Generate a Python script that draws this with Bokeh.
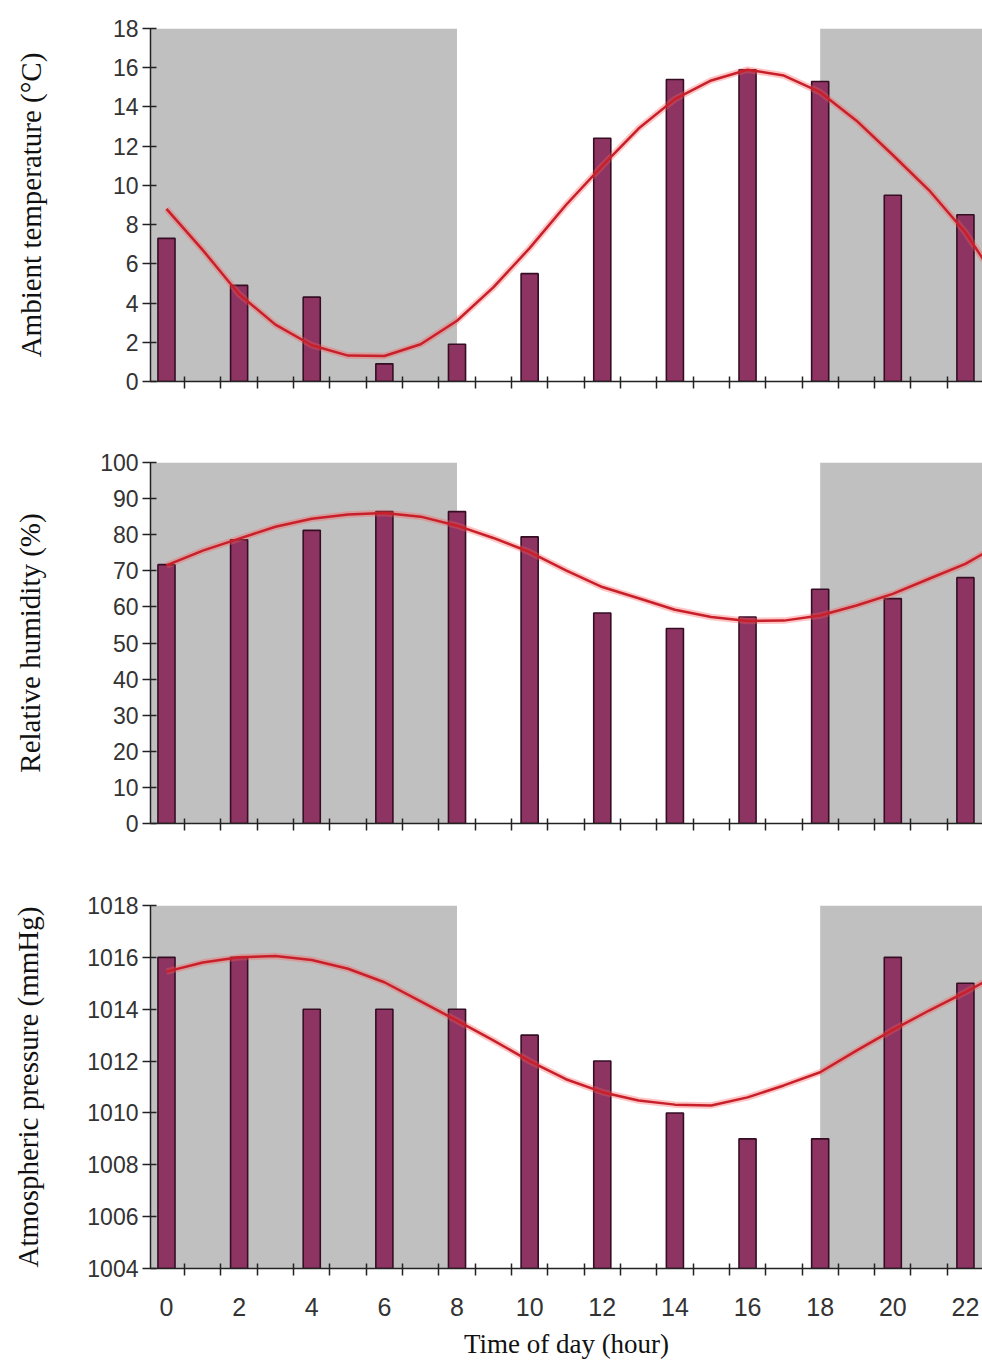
from bokeh.plotting import figure
from bokeh.layouts import column
from bokeh.models import Range1d, FixedTicker, BoxAnnotation
from bokeh.embed import file_html
from bokeh.resources import INLINE

# ---------------- data ----------------
hours = [0, 2, 4, 6, 8, 10, 12, 14, 16, 18, 20, 22]
temperature = [7.3, 4.9, 4.3, 0.9, 1.9, 5.5, 12.4, 15.4, 15.9, 15.3, 9.5, 8.5]
humidity = [71.7, 78.6, 81.2, 86.4, 86.4, 79.4, 58.3, 54.0, 57.2, 64.9, 62.3, 68.1]
pressure = [1016, 1016, 1014, 1014, 1014, 1013, 1012, 1010, 1009, 1009, 1016, 1015]

fit_hours = [0, 1, 2, 3, 4, 5, 6, 7, 8, 9, 10, 11, 12, 13, 14, 15, 16, 17, 18, 19, 20, 21, 22, 22.5]
temperature_fit = [8.8, 6.7, 4.45, 2.9, 1.85, 1.32, 1.3, 1.9, 3.1, 4.8, 6.8, 9.0, 11.0, 12.9,
                   14.4, 15.35, 15.9, 15.6, 14.75, 13.3, 11.55, 9.75, 7.6, 6.2]
humidity_fit = [71.5, 75.6, 78.9, 82.2, 84.4, 85.6, 86.0, 85.0, 82.5, 79.1, 75.2, 70.1, 65.5, 62.4,
                59.2, 57.2, 56.1, 56.2, 57.6, 60.4, 63.6, 67.8, 71.9, 74.8]
pressure_fit = [1015.45, 1015.8, 1016.0, 1016.05, 1015.9, 1015.56, 1015.04, 1014.3, 1013.56, 1012.8,
                1012.0, 1011.3, 1010.8, 1010.48, 1010.32, 1010.29, 1010.6, 1011.06, 1011.57, 1012.4,
                1013.2, 1013.95, 1014.66, 1015.04]

night_periods = [(-0.5, 8), (18, 24)]
x_tick_labels = [0, 2, 4, 6, 8, 10, 12, 14, 16, 18, 20, 22]
half_hour_ticks = [h + 0.5 for h in range(-1, 24)]

panels = [
    dict(values=temperature, fit=temperature_fit, yr=(0, 18), ticks=list(range(0, 19, 2)),
         label="Ambient temperature (°C)", top=28, frame=353, bottom=49, standoff=63, last=False),
    dict(values=humidity, fit=humidity_fit, yr=(0, 100), ticks=list(range(0, 101, 10)),
         label="Relative humidity (%)", top=32, frame=361, bottom=52, standoff=51, last=False),
    dict(values=pressure, fit=pressure_fit, yr=(1004, 1018), ticks=list(range(1004, 1019, 2)),
         label="Atmospheric pressure (mmHg)", top=30, frame=363, bottom=97, standoff=40, last=True),
]

BAR_FILL = "#8E3462"
BAR_LINE = "#350E24"
GRAY = "#C0C0C0"
RED = "#C8202A"
AXIS = "#222222"

figs = []
for cfg in panels:
    h = cfg["top"] + cfg["frame"] + cfg["bottom"]
    p = figure(width=982, height=h, output_backend="svg", toolbar_location=None,
               x_range=Range1d(-0.44, 22.47), y_range=Range1d(*cfg["yr"]),
               min_border_left=150, min_border_right=0,
               min_border_top=cfg["top"], min_border_bottom=cfg["bottom"])
    p.outline_line_color = None
    p.xgrid.visible = False
    p.ygrid.visible = False
    p.background_fill_color = "white"

    for (a, b) in night_periods:
        p.add_layout(BoxAnnotation(left=a, right=b, fill_color=GRAY, fill_alpha=1.0,
                                   line_color=None, level="underlay"))

    base = cfg["yr"][0]
    p.vbar(x=hours, top=cfg["values"], bottom=base, width=0.47,
           fill_color=BAR_FILL, line_color=BAR_LINE, line_width=1.6)

    p.line(fit_hours, cfg["fit"], line_color="#FF5A5A", line_alpha=0.35, line_width=6.5)
    p.line(fit_hours, cfg["fit"], line_color=RED, line_width=2.5)

    # y axis
    ya = p.yaxis[0]
    ya.ticker = FixedTicker(ticks=cfg["ticks"])
    ya.axis_line_color = AXIS
    ya.axis_line_width = 1.5
    ya.major_tick_line_color = AXIS
    ya.major_tick_line_width = 1.5
    ya.major_tick_in = 6
    ya.major_tick_out = 8
    ya.minor_tick_line_color = None
    ya.major_label_standoff = 4
    ya.major_label_text_font = "Liberation Sans"
    ya.major_label_text_font_size = "23px"
    ya.major_label_text_color = "#333333"
    ya.axis_label = cfg["label"]
    ya.axis_label_text_font = "Liberation Serif"
    ya.axis_label_text_font_style = "normal"
    ya.axis_label_text_font_size = "29px"
    ya.axis_label_text_color = "#111111"
    ya.axis_label_standoff = cfg["standoff"]

    # x axis
    xa = p.xaxis[0]
    xa.axis_line_color = AXIS
    xa.axis_line_width = 1.5
    xa.major_tick_line_color = None
    xa.major_tick_in = 0
    xa.major_tick_out = 7
    xa.minor_tick_line_color = AXIS
    xa.minor_tick_line_width = 1.5
    xa.minor_tick_in = 5
    xa.minor_tick_out = 7
    if cfg["last"]:
        xa.ticker = FixedTicker(ticks=x_tick_labels, minor_ticks=half_hour_ticks)
        xa.major_label_text_font = "Liberation Sans"
        xa.major_label_text_font_size = "25px"
        xa.major_label_text_color = "#333333"
        xa.major_label_standoff = 22
        xa.axis_label = "Time of day (hour)"
        xa.axis_label_text_font = "Liberation Serif"
        xa.axis_label_text_font_style = "normal"
        xa.axis_label_text_font_size = "27px"
        xa.axis_label_text_color = "#111111"
        xa.axis_label_standoff = 10
    else:
        xa.ticker = FixedTicker(ticks=[], minor_ticks=half_hour_ticks)
    figs.append(p)

layout = column(*figs, spacing=0)
open("out.html", "w").write(file_html(layout, INLINE))
